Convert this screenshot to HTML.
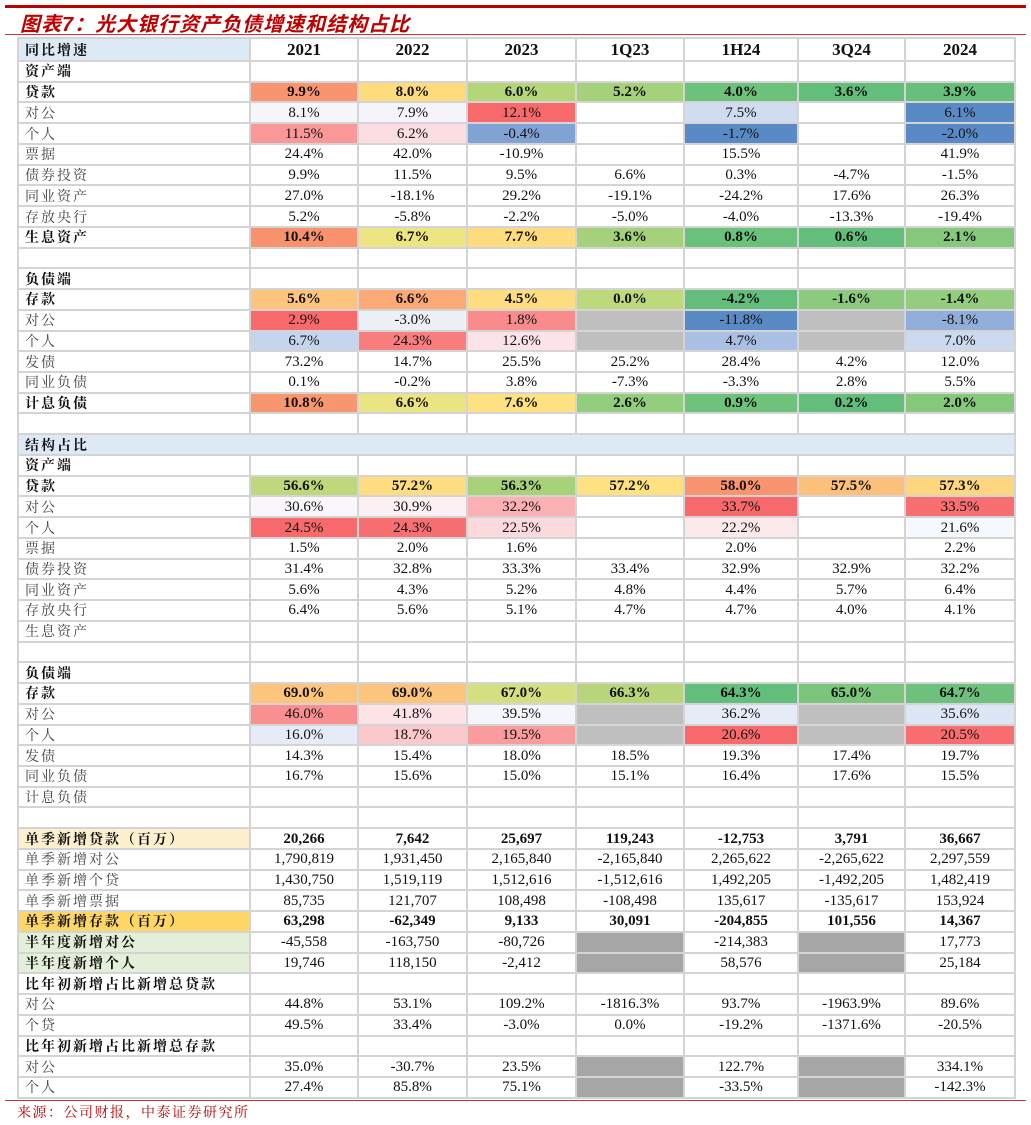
<!DOCTYPE html>
<html><head><meta charset="utf-8"><style>
body{margin:0;width:1031px;height:1125px;background:#fff;position:relative;overflow:hidden;font-family:"Liberation Serif","Noto Serif CJK SC",serif;}
.t1{position:absolute;left:5px;top:5px;width:1021px;height:3px;background:#c00000}
.ti{position:absolute;left:20px;top:8px;font-size:20px;font-weight:bold;font-style:italic;color:#c00000;font-family:"Liberation Sans","Noto Sans CJK SC",sans-serif;letter-spacing:1px}
.t2{position:absolute;left:5px;top:34px;width:1021px;height:1px;background:#d03030}
.t3{position:absolute;left:5px;top:1100px;width:1021px;height:1px;background:#d03030}
.src{position:absolute;left:17px;top:1102px;font-size:14px;letter-spacing:1.5px;color:#c00000;font-family:"Noto Serif CJK SC",serif}
table{position:absolute;left:17px;top:37px;width:997px;border-collapse:collapse;table-layout:fixed}
td{border:2px solid #d4d4d4;padding:0;text-align:center;font-size:15px;color:#111;height:18.74px;line-height:16px;white-space:nowrap;overflow:hidden}
tr{height:20.74px}
td:first-child{text-align:left;padding-left:6px;font-size:14px;color:#444;letter-spacing:2px;font-family:"Noto Serif CJK SC",serif}
tr.h td{height:21px;font-size:17px;font-weight:bold;color:#111}
tr.h td:first-child{background:#dde9f5;font-size:14px}
tr.b td{font-weight:bold;color:#111}
tr.b td:first-child{color:#111;font-weight:bold}
.g{background:#bfbfbf}.d{background:#a6a6a6}
</style></head><body>
<div class="t1"></div>
<div class="ti">图表7：光大银行资产负债增速和结构占比</div>
<div class="t2"></div>
<table>
<colgroup><col style="width:232px"><col style="width:108px"><col style="width:109px"><col style="width:109px"><col style="width:108px"><col style="width:114px"><col style="width:107px"><col style="width:110px"></colgroup>
<tr class="h"><td>同比增速</td><td>2021</td><td>2022</td><td>2023</td><td>1Q23</td><td>1H24</td><td>3Q24</td><td>2024</td></tr>
<tr class="b"><td>资产端</td><td></td><td></td><td></td><td></td><td></td><td></td><td></td></tr>
<tr class="b"><td>贷款</td><td style="background:#f8946e">9.9%</td><td style="background:#fedc7e">8.0%</td><td style="background:#b5d57a">6.0%</td><td style="background:#a5d17a">5.2%</td><td style="background:#6dc27b">4.0%</td><td style="background:#63be7b">3.6%</td><td style="background:#66bf7b">3.9%</td></tr>
<tr><td>对公</td><td style="background:#f7f7fb">8.1%</td><td style="background:#f4f4fa">7.9%</td><td style="background:#f8696b">12.1%</td><td></td><td style="background:#d0ddf0">7.5%</td><td></td><td style="background:#5a8ac6">6.1%</td></tr>
<tr><td>个人</td><td style="background:#fa9798">11.5%</td><td style="background:#fcdde1">6.2%</td><td style="background:#80a2d4">-0.4%</td><td></td><td style="background:#5a8ac6">-1.7%</td><td></td><td style="background:#5a8ac6">-2.0%</td></tr>
<tr><td>票据</td><td>24.4%</td><td>42.0%</td><td>-10.9%</td><td></td><td>15.5%</td><td></td><td>41.9%</td></tr>
<tr><td>债券投资</td><td>9.9%</td><td>11.5%</td><td>9.5%</td><td>6.6%</td><td>0.3%</td><td>-4.7%</td><td>-1.5%</td></tr>
<tr><td>同业资产</td><td>27.0%</td><td>-18.1%</td><td>29.2%</td><td>-19.1%</td><td>-24.2%</td><td>17.6%</td><td>26.3%</td></tr>
<tr><td>存放央行</td><td>5.2%</td><td>-5.8%</td><td>-2.2%</td><td>-5.0%</td><td>-4.0%</td><td>-13.3%</td><td>-19.4%</td></tr>
<tr class="b"><td>生息资产</td><td style="background:#f8926d">10.4%</td><td style="background:#ede582">6.7%</td><td style="background:#fedb7d">7.7%</td><td style="background:#a5d17a">3.6%</td><td style="background:#6ac17b">0.8%</td><td style="background:#63be7b">0.6%</td><td style="background:#86c97d">2.1%</td></tr>
<tr><td></td><td></td><td></td><td></td><td></td><td></td><td></td><td></td></tr>
<tr class="b"><td>负债端</td><td></td><td></td><td></td><td></td><td></td><td></td><td></td></tr>
<tr class="b"><td>存款</td><td style="background:#fdc47d">5.6%</td><td style="background:#fba976">6.6%</td><td style="background:#fedd81">4.5%</td><td style="background:#bcd97c">0.0%</td><td style="background:#63be7b">-4.2%</td><td style="background:#8ccb7e">-1.6%</td><td style="background:#94cd7e">-1.4%</td></tr>
<tr><td>对公</td><td style="background:#f8696b">2.9%</td><td style="background:#eef0f8">-3.0%</td><td style="background:#f98b8d">1.8%</td><td class="g"></td><td style="background:#5a8ac6">-11.8%</td><td class="g"></td><td style="background:#91aedb">-8.1%</td></tr>
<tr><td>个人</td><td style="background:#c5d5ee">6.7%</td><td style="background:#f97e80">24.3%</td><td style="background:#fbe3e7">12.6%</td><td class="g"></td><td style="background:#a9c0e4">4.7%</td><td class="g"></td><td style="background:#ccdaf0">7.0%</td></tr>
<tr><td>发债</td><td>73.2%</td><td>14.7%</td><td>25.5%</td><td>25.2%</td><td>28.4%</td><td>4.2%</td><td>12.0%</td></tr>
<tr><td>同业负债</td><td>0.1%</td><td>-0.2%</td><td>3.8%</td><td>-7.3%</td><td>-3.3%</td><td>2.8%</td><td>5.5%</td></tr>
<tr class="b"><td>计息负债</td><td style="background:#f8976f">10.8%</td><td style="background:#ebe483">6.6%</td><td style="background:#fee181">7.6%</td><td style="background:#93cd7e">2.6%</td><td style="background:#6ec27c">0.9%</td><td style="background:#63be7b">0.2%</td><td style="background:#86c97d">2.0%</td></tr>
<tr><td></td><td></td><td></td><td></td><td></td><td></td><td></td><td></td></tr>
<tr class="b"><td colspan="8" style="background:#dde9f5">结构占比</td></tr>
<tr class="b"><td>资产端</td><td></td><td></td><td></td><td></td><td></td><td></td><td></td></tr>
<tr class="b"><td>贷款</td><td style="background:#bed87b">56.6%</td><td style="background:#fedd81">57.2%</td><td style="background:#a8d27a">56.3%</td><td style="background:#fee282">57.2%</td><td style="background:#f8946e">58.0%</td><td style="background:#fcc07b">57.5%</td><td style="background:#fed680">57.3%</td></tr>
<tr><td>对公</td><td style="background:#f9f7fa">30.6%</td><td style="background:#fcf0f2">30.9%</td><td style="background:#fbb0b3">32.2%</td><td></td><td style="background:#f8696b">33.7%</td><td></td><td style="background:#f86f71">33.5%</td></tr>
<tr><td>个人</td><td style="background:#f8696b">24.5%</td><td style="background:#f86f71">24.3%</td><td style="background:#fcd9dd">22.5%</td><td></td><td style="background:#fce9ec">22.2%</td><td></td><td style="background:#f5f8fc">21.6%</td></tr>
<tr><td>票据</td><td>1.5%</td><td>2.0%</td><td>1.6%</td><td></td><td>2.0%</td><td></td><td>2.2%</td></tr>
<tr><td>债券投资</td><td>31.4%</td><td>32.8%</td><td>33.3%</td><td>33.4%</td><td>32.9%</td><td>32.9%</td><td>32.2%</td></tr>
<tr><td>同业资产</td><td>5.6%</td><td>4.3%</td><td>5.2%</td><td>4.8%</td><td>4.4%</td><td>5.7%</td><td>6.4%</td></tr>
<tr><td>存放央行</td><td>6.4%</td><td>5.6%</td><td>5.1%</td><td>4.7%</td><td>4.7%</td><td>4.0%</td><td>4.1%</td></tr>
<tr><td>生息资产</td><td></td><td></td><td></td><td></td><td></td><td></td><td></td></tr>
<tr><td></td><td></td><td></td><td></td><td></td><td></td><td></td><td></td></tr>
<tr class="b"><td>负债端</td><td></td><td></td><td></td><td></td><td></td><td></td><td></td></tr>
<tr class="b"><td>存款</td><td style="background:#fdc47d">69.0%</td><td style="background:#fdc47d">69.0%</td><td style="background:#d4df81">67.0%</td><td style="background:#b7d67b">66.3%</td><td style="background:#63be7b">64.3%</td><td style="background:#7bc57c">65.0%</td><td style="background:#6dc17c">64.7%</td></tr>
<tr><td>对公</td><td style="background:#fa8f91">46.0%</td><td style="background:#fde2e6">41.8%</td><td style="background:#f5f6fb">39.5%</td><td class="g"></td><td style="background:#e5ecf7">36.2%</td><td class="g"></td><td style="background:#dde6f4">35.6%</td></tr>
<tr><td>个人</td><td style="background:#e6ecf7">16.0%</td><td style="background:#fbc9cc">18.7%</td><td style="background:#fa9b9d">19.5%</td><td class="g"></td><td style="background:#f8696b">20.6%</td><td class="g"></td><td style="background:#f86d6f">20.5%</td></tr>
<tr><td>发债</td><td>14.3%</td><td>15.4%</td><td>18.0%</td><td>18.5%</td><td>19.3%</td><td>17.4%</td><td>19.7%</td></tr>
<tr><td>同业负债</td><td>16.7%</td><td>15.6%</td><td>15.0%</td><td>15.1%</td><td>16.4%</td><td>17.6%</td><td>15.5%</td></tr>
<tr><td>计息负债</td><td></td><td></td><td></td><td></td><td></td><td></td><td></td></tr>
<tr><td></td><td></td><td></td><td></td><td></td><td></td><td></td><td></td></tr>
<tr class="b"><td style="background:#fdf0cf">单季新增贷款（百万）</td><td>20,266</td><td>7,642</td><td>25,697</td><td>119,243</td><td>-12,753</td><td>3,791</td><td>36,667</td></tr>
<tr><td>单季新增对公</td><td>1,790,819</td><td>1,931,450</td><td>2,165,840</td><td>-2,165,840</td><td>2,265,622</td><td>-2,265,622</td><td>2,297,559</td></tr>
<tr><td>单季新增个贷</td><td>1,430,750</td><td>1,519,119</td><td>1,512,616</td><td>-1,512,616</td><td>1,492,205</td><td>-1,492,205</td><td>1,482,419</td></tr>
<tr><td>单季新增票据</td><td>85,735</td><td>121,707</td><td>108,498</td><td>-108,498</td><td>135,617</td><td>-135,617</td><td>153,924</td></tr>
<tr class="b"><td style="background:#fdd666">单季新增存款（百万）</td><td>63,298</td><td>-62,349</td><td>9,133</td><td>30,091</td><td>-204,855</td><td>101,556</td><td>14,367</td></tr>
<tr><td style="background:#e3efd9;color:#111;font-weight:bold">半年度新增对公</td><td>-45,558</td><td>-163,750</td><td>-80,726</td><td class="d"></td><td>-214,383</td><td class="d"></td><td>17,773</td></tr>
<tr><td style="background:#e3efd9;color:#111;font-weight:bold">半年度新增个人</td><td>19,746</td><td>118,150</td><td>-2,412</td><td class="d"></td><td>58,576</td><td class="d"></td><td>25,184</td></tr>
<tr class="b"><td>比年初新增占比新增总贷款</td><td></td><td></td><td></td><td></td><td></td><td></td><td></td></tr>
<tr><td>对公</td><td>44.8%</td><td>53.1%</td><td>109.2%</td><td>-1816.3%</td><td>93.7%</td><td>-1963.9%</td><td>89.6%</td></tr>
<tr><td>个贷</td><td>49.5%</td><td>33.4%</td><td>-3.0%</td><td>0.0%</td><td>-19.2%</td><td>-1371.6%</td><td>-20.5%</td></tr>
<tr class="b"><td>比年初新增占比新增总存款</td><td></td><td></td><td></td><td></td><td></td><td></td><td></td></tr>
<tr><td>对公</td><td>35.0%</td><td>-30.7%</td><td>23.5%</td><td class="d"></td><td>122.7%</td><td class="d"></td><td>334.1%</td></tr>
<tr><td>个人</td><td>27.4%</td><td>85.8%</td><td>75.1%</td><td class="d"></td><td>-33.5%</td><td class="d"></td><td>-142.3%</td></tr>
</table>
<div class="t3"></div>
<div class="src">来源：公司财报，中泰证券研究所</div>
</body></html>
